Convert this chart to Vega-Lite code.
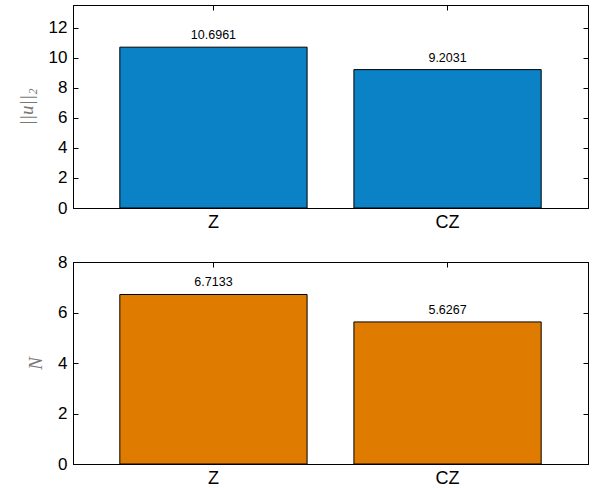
{
  "$schema": "https://vega.github.io/schema/vega-lite/v6.json",
  "padding": {"left": 16, "top": 4, "right": 2, "bottom": 2},
  "background": "white",
  "spacing": 20,
  "config": {
    "view": {"stroke": "black", "strokeWidth": 1},
    "axis": {
      "domainColor": "black",
      "tickColor": "black",
      "labelColor": "black",
      "labelFont": "Liberation Sans",
      "grid": false,
      "tickSize": -5,
      "titleFont": "Liberation Serif",
      "titleFontStyle": "italic",
      "titleFontWeight": "normal",
      "titleColor": "#777777",
      "titleFontSize": 19
    }
  },
  "vconcat": [
    {
      "width": 515,
      "height": 203,
      "data": {"values": [{"cat": "Z", "val": 10.6961}, {"cat": "CZ", "val": 9.2031}]},
      "layer": [
        {
          "mark": {"type": "bar", "color": "#0b81c6", "stroke": "black", "strokeWidth": 1},
          "encoding": {
            "x": {"field": "cat", "type": "nominal", "sort": null, "title": null,
                  "scale": {"paddingInner": 0.2, "paddingOuter": 0.2},
                  "axis": {"labelAngle": 0, "labelFontSize": 18, "labelPadding": 10}},
            "y": {"field": "val", "type": "quantitative", "title": "||u||₂",
                  "scale": {"domain": [0, 13.5], "nice": false},
                  "axis": {"values": [0, 2, 4, 6, 8, 10, 12], "labelFontSize": 17, "labelPadding": 11, "titlePadding": 12}}
          }
        },
        {
          "mark": {"type": "text", "baseline": "bottom", "dy": -5, "font": "Liberation Sans", "fontSize": 12.5, "color": "black"},
          "encoding": {
            "x": {"field": "cat", "type": "nominal", "sort": null, "axis": null},
            "y": {"field": "val", "type": "quantitative", "axis": null},
            "text": {"field": "val", "type": "quantitative", "format": ".4f"}
          }
        },
        {
          "mark": {"type": "bar", "opacity": 0},
          "encoding": {
            "x": {"field": "cat", "type": "nominal", "sort": null, "title": null, "axis": {"orient": "top", "labels": false}},
            "y": {"field": "val", "type": "quantitative", "title": null, "axis": {"orient": "right", "labels": false, "values": [0, 2, 4, 6, 8, 10, 12]}}
          }
        }
      ],
      "resolve": {"axis": {"x": "independent", "y": "independent"}}
    },
    {
      "width": 515,
      "height": 202,
      "data": {"values": [{"cat": "Z", "val": 6.7133}, {"cat": "CZ", "val": 5.6267}]},
      "layer": [
        {
          "mark": {"type": "bar", "color": "#df7c00", "stroke": "black", "strokeWidth": 1},
          "encoding": {
            "x": {"field": "cat", "type": "nominal", "sort": null, "title": null,
                  "scale": {"paddingInner": 0.2, "paddingOuter": 0.2},
                  "axis": {"labelAngle": 0, "labelFontSize": 18, "labelPadding": 10}},
            "y": {"field": "val", "type": "quantitative", "title": "N",
                  "scale": {"domain": [0, 8], "nice": false},
                  "axis": {"values": [0, 2, 4, 6, 8], "labelFontSize": 17, "labelPadding": 11, "titlePadding": 12}}
          }
        },
        {
          "mark": {"type": "text", "baseline": "bottom", "dy": -5, "font": "Liberation Sans", "fontSize": 12.5, "color": "black"},
          "encoding": {
            "x": {"field": "cat", "type": "nominal", "sort": null, "axis": null},
            "y": {"field": "val", "type": "quantitative", "axis": null},
            "text": {"field": "val", "type": "quantitative", "format": ".4f"}
          }
        },
        {
          "mark": {"type": "bar", "opacity": 0},
          "encoding": {
            "x": {"field": "cat", "type": "nominal", "sort": null, "title": null, "axis": {"orient": "top", "labels": false}},
            "y": {"field": "val", "type": "quantitative", "title": null, "axis": {"orient": "right", "labels": false, "values": [0, 2, 4, 6, 8]}}
          }
        }
      ],
      "resolve": {"axis": {"x": "independent", "y": "independent"}}
    }
  ]
}
